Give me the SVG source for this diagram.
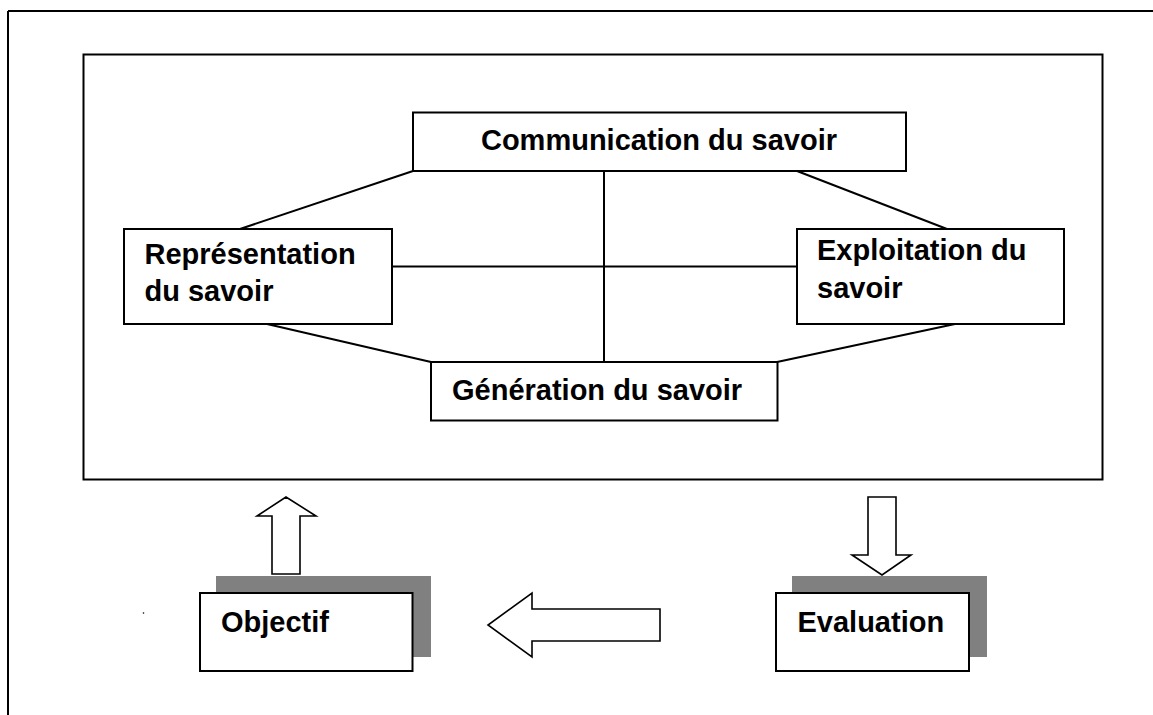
<svg xmlns="http://www.w3.org/2000/svg" width="1153" height="715" viewBox="0 0 1153 715">
<style>
.box{fill:#fff;stroke:#000;stroke-width:2}
.ln{stroke:#000;stroke-width:2;fill:none}
.shadow{fill:#808080}
.arrow{fill:#fff;stroke:#000;stroke-width:1.6;stroke-linejoin:miter}
.t{font-family:"Liberation Sans",Arial,sans-serif;font-weight:bold;font-size:29px;fill:#000}
</style>
<rect width="1153" height="715" fill="#fff"/>
<g id="frame">
<path class="ln" d="M8,11 H1153 M8,11 V715"/>
<rect class="box" x="83.5" y="54.5" width="1019" height="425" fill="none"/>
</g>
<g id="connectors">
<line class="ln" x1="604" y1="171" x2="604" y2="362"/>
<line class="ln" x1="392" y1="266.5" x2="797" y2="266.5"/>
<line class="ln" x1="413" y1="171" x2="240" y2="229"/>
<line class="ln" x1="797" y1="171" x2="947" y2="229"/>
<line class="ln" x1="267" y1="324" x2="431" y2="362"/>
<line class="ln" x1="777" y1="362" x2="955" y2="324"/>
</g>
<g id="communication">
<rect class="box" x="413" y="112.5" width="493" height="58.5"/>
<text class="t" x="659" y="150" text-anchor="middle">Communication du savoir</text>
</g>
<g id="representation">
<rect class="box" x="124" y="229" width="268" height="95"/>
<text class="t" x="144.5" y="263.5">Représentation</text>
<text class="t" x="144.5" y="300.5">du savoir</text>
</g>
<g id="exploitation">
<rect class="box" x="797" y="229" width="267" height="95"/>
<text class="t" x="817" y="260">Exploitation du</text>
<text class="t" x="817" y="297.5">savoir</text>
</g>
<g id="generation">
<rect class="box" x="431" y="362" width="346.5" height="58.5"/>
<text class="t" x="452" y="400">Génération du savoir</text>
</g>
<g id="objectif">
<rect class="shadow" x="216" y="576" width="215" height="81"/>
<rect class="box" x="200" y="593" width="212.5" height="78"/>
<text class="t" x="221" y="631.5">Objectif</text>
</g>
<g id="evaluation">
<rect class="shadow" x="792" y="576" width="195" height="81"/>
<rect class="box" x="776" y="593" width="193" height="78"/>
<text class="t" x="797.5" y="631.5">Evaluation</text>
</g>
<g id="arrows">
<polygon class="arrow" points="272,574 272,516 257,516 286,497 316,516 300,516 300,574"/>
<polygon class="arrow" points="868,497 896,497 896,555 911,555 882,575 852,555 868,555"/>
<polygon class="arrow" points="660,609 532,609 532,593 488,625 532,657 532,641 660,641"/>
</g>
<circle cx="143.5" cy="613" r="0.8" fill="#000"/>
</svg>
